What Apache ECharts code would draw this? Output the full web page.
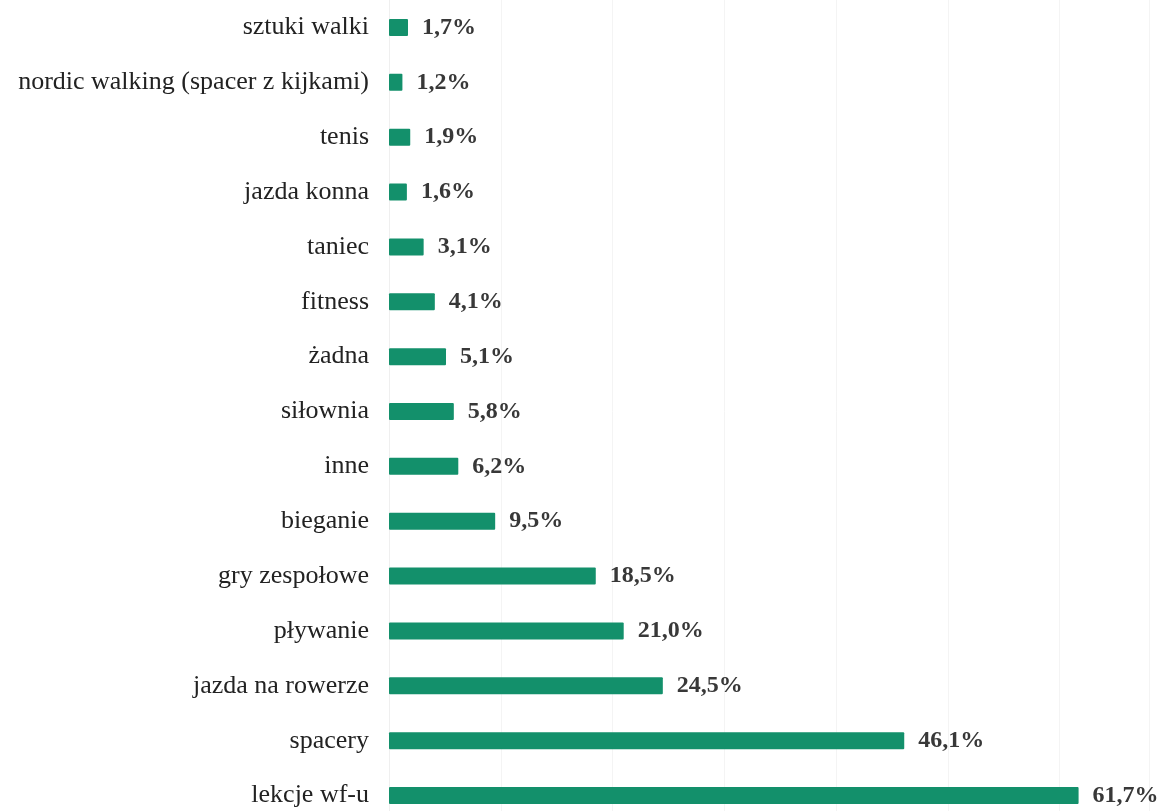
<!DOCTYPE html>
<html>
<head>
<meta charset="utf-8">
<script src="https://cdn.jsdelivr.net/npm/echarts@6/dist/echarts.min.js"></script>
<style>
  html, body { margin: 0; padding: 0; background: #ffffff; overflow: hidden; }
  /* the last row runs slightly past the bottom edge of the page */
  #chart { width: 1164px; height: 823px; }
</style>
</head>
<body>
<div id="chart"></div>
<script>
// Forms of physical activity, share of respondents (%), listed top to bottom
const categories = [
  'sztuki walki',
  'nordic walking (spacer z kijkami)',
  'tenis',
  'jazda konna',
  'taniec',
  'fitness',
  'żadna',
  'siłownia',
  'inne',
  'bieganie',
  'gry zespołowe',
  'pływanie',
  'jazda na rowerze',
  'spacery',
  'lekcje wf-u'
];
const values = [1.7, 1.2, 1.9, 1.6, 3.1, 4.1, 5.1, 5.8, 6.2, 9.5, 18.5, 21.0, 24.5, 46.1, 61.7];

// Category axis runs bottom-up, so reverse to keep the first item on top
const cats = categories.slice().reverse();
const vals = values.slice().reverse();

const chart = echarts.init(document.getElementById('chart'));
chart.setOption({
  backgroundColor: '#ffffff',
  animation: false,
  grid: { left: 389, top: 0, bottom: 0, right: 15, containLabel: false },
  xAxis: {
    type: 'value',
    min: 0,
    max: 68,
    interval: 10,
    axisLabel: { show: false },
    axisLine: { show: false },
    axisTick: { show: false },
    splitLine: { show: true, lineStyle: { color: '#f4f4f4', width: 1 } }
  },
  yAxis: {
    type: 'category',
    data: cats,
    axisLine: { show: true, lineStyle: { color: '#efefef' } },
    axisTick: { show: false },
    axisLabel: {
      margin: 20,
      fontFamily: 'Liberation Serif',
      fontSize: 26,
      color: '#222222'
    }
  },
  series: [{
    type: 'bar',
    data: vals,
    barWidth: 17,
    itemStyle: { color: '#13906b', borderRadius: 1 },
    label: {
      show: true,
      position: 'right',
      distance: 14,
      fontFamily: 'Liberation Serif',
      fontWeight: 'bold',
      fontSize: 24,
      color: '#383838',
      formatter: p => p.value.toFixed(1).replace('.', ',') + '%'
    }
  }]
});
</script>
</body>
</html>
